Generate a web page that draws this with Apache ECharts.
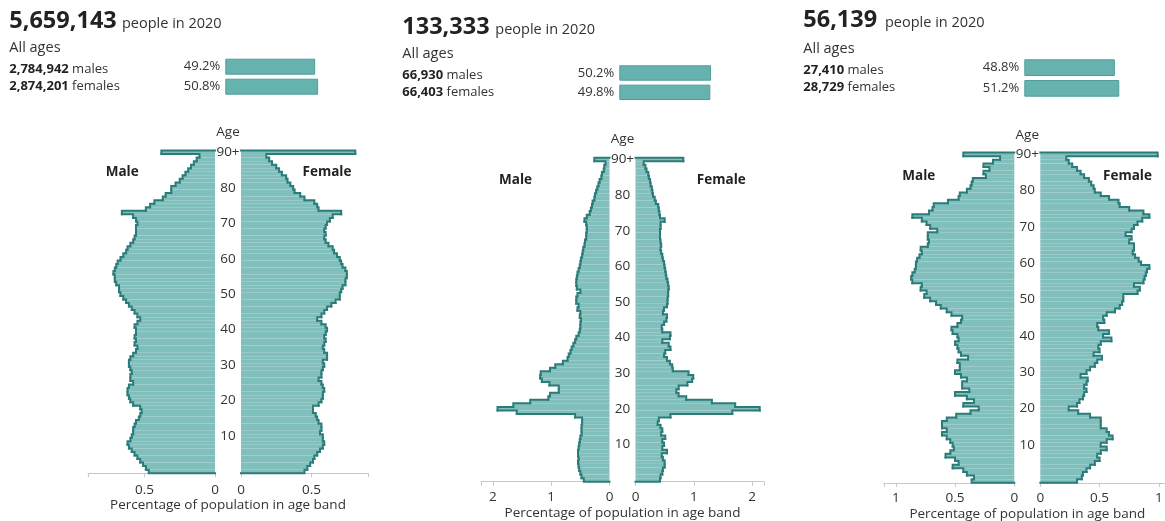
<!DOCTYPE html>
<html><head><meta charset="utf-8">
<script src="https://cdn.jsdelivr.net/npm/echarts@6/dist/echarts.min.js"></script>
<style>html,body{margin:0;padding:0;background:#fff}#c{width:1165px;height:521px}</style>
</head><body><div id="c"></div>
<script>
// ---------- data ----------
const ageLabels = [];
for (let a = 0; a < 90; a++) ageLabels.push(String(a));
ageLabels.push('90+');

const year = 2020;
const totals = [5659143, 133333, 56139];
const maleCounts = [2784942, 66930, 27410];
const femaleCounts = [2874201, 66403, 28729];
const malePct = [49.2, 50.2, 48.8];
const femalePct = [50.8, 49.8, 51.2];

// % of population in each single year of age, index = age 0..90+
const p1Male = [0.47,0.49,0.51,0.53,0.55,0.57,0.59,0.61,0.62,0.60,0.59,0.58,0.58,0.57,0.56,0.54,0.53,0.52,0.53,0.58,
  0.60,0.61,0.62,0.62,0.61,0.58,0.60,0.60,0.59,0.60,0.61,0.61,0.60,0.58,0.56,0.55,0.57,0.56,0.57,0.56,
  0.56,0.57,0.55,0.53,0.55,0.57,0.59,0.61,0.63,0.65,0.67,0.68,0.68,0.70,0.71,0.71,0.72,0.71,0.70,0.69,
  0.67,0.65,0.63,0.62,0.60,0.58,0.57,0.56,0.56,0.56,0.55,0.56,0.58,0.66,0.49,0.46,0.43,0.37,0.35,0.31,
  0.31,0.28,0.25,0.23,0.21,0.19,0.17,0.15,0.13,0.11,0.38];
const p1Female = [0.45,0.47,0.49,0.51,0.52,0.54,0.56,0.58,0.59,0.58,0.58,0.56,0.57,0.57,0.55,0.54,0.53,0.51,0.51,0.55,
  0.57,0.58,0.58,0.59,0.58,0.57,0.55,0.57,0.57,0.58,0.59,0.58,0.61,0.61,0.59,0.58,0.59,0.60,0.59,0.60,
  0.61,0.60,0.57,0.54,0.57,0.59,0.61,0.64,0.67,0.70,0.70,0.71,0.72,0.74,0.74,0.75,0.75,0.74,0.72,0.71,
  0.70,0.68,0.66,0.65,0.62,0.60,0.59,0.60,0.59,0.60,0.61,0.63,0.65,0.71,0.55,0.54,0.52,0.45,0.42,0.38,
  0.37,0.35,0.33,0.32,0.29,0.27,0.25,0.22,0.20,0.18,0.81];
const p2Male = [0.44,0.48,0.50,0.52,0.53,0.54,0.53,0.54,0.54,0.53,0.52,0.51,0.50,0.48,0.48,0.48,0.47,0.47,0.59,1.59,
  1.92,1.65,1.36,1.05,1.02,0.87,0.87,1.03,1.16,1.19,1.18,1.02,0.93,0.80,0.72,0.70,0.67,0.65,0.62,0.59,
  0.57,0.53,0.51,0.50,0.50,0.49,0.51,0.50,0.55,0.53,0.57,0.57,0.55,0.50,0.56,0.57,0.57,0.56,0.55,0.53,
  0.51,0.50,0.49,0.47,0.46,0.45,0.43,0.42,0.40,0.40,0.39,0.39,0.40,0.43,0.39,0.34,0.32,0.30,0.29,0.26,
  0.25,0.23,0.21,0.19,0.17,0.14,0.13,0.10,0.09,0.07,0.26];
const p2Female = [0.42,0.43,0.46,0.47,0.50,0.50,0.47,0.45,0.54,0.46,0.49,0.46,0.51,0.44,0.46,0.43,0.38,0.40,0.60,1.66,
  2.13,1.71,1.31,0.87,0.74,0.70,0.74,0.89,0.97,0.99,0.91,0.64,0.63,0.59,0.54,0.49,0.51,0.60,0.57,0.46,
  0.59,0.60,0.46,0.45,0.49,0.53,0.54,0.47,0.49,0.54,0.55,0.55,0.56,0.56,0.57,0.56,0.55,0.53,0.52,0.51,
  0.50,0.49,0.47,0.46,0.44,0.43,0.44,0.43,0.42,0.42,0.42,0.43,0.43,0.50,0.42,0.41,0.40,0.39,0.35,0.33,
  0.30,0.29,0.28,0.26,0.25,0.23,0.22,0.19,0.17,0.14,0.82];
const p3Male = [0.36,0.34,0.40,0.43,0.52,0.47,0.50,0.58,0.54,0.51,0.52,0.54,0.57,0.61,0.57,0.61,0.61,0.57,0.49,0.37,
  0.30,0.43,0.34,0.40,0.50,0.38,0.44,0.44,0.40,0.45,0.50,0.46,0.46,0.48,0.39,0.45,0.47,0.48,0.50,0.47,
  0.48,0.52,0.53,0.48,0.45,0.44,0.53,0.57,0.62,0.66,0.71,0.76,0.74,0.79,0.78,0.86,0.87,0.86,0.84,0.83,
  0.83,0.82,0.80,0.78,0.79,0.73,0.72,0.73,0.73,0.65,0.71,0.74,0.78,0.86,0.72,0.69,0.68,0.56,0.47,0.46,
  0.40,0.37,0.36,0.35,0.24,0.26,0.21,0.26,0.18,0.12,0.43];
const p3Female = [0.31,0.35,0.36,0.39,0.42,0.46,0.50,0.48,0.51,0.56,0.51,0.56,0.61,0.58,0.56,0.51,0.51,0.51,0.42,0.32,
  0.24,0.31,0.33,0.36,0.37,0.39,0.37,0.39,0.40,0.34,0.39,0.42,0.46,0.48,0.52,0.45,0.50,0.49,0.51,0.60,
  0.53,0.58,0.49,0.48,0.54,0.53,0.56,0.63,0.67,0.69,0.70,0.70,0.82,0.84,0.79,0.87,0.88,0.89,0.90,0.92,
  0.85,0.83,0.80,0.78,0.79,0.79,0.75,0.77,0.72,0.77,0.79,0.82,0.86,0.92,0.87,0.75,0.67,0.66,0.58,0.51,
  0.46,0.45,0.43,0.41,0.37,0.34,0.31,0.27,0.24,0.22,0.99];

const pyramids = [[p1Male, p1Female], [p2Male, p2Female], [p3Male, p3Female]];

// ---------- layout / style ----------
const FONT = "'Open Sans', sans-serif";
const TEXT = '#333333';
const FILL = '#80bfbc';
const LINE = '#2b7c79';
const L = [
  {hx: 9.3, px: 122, bigY: 21, pplY: 23.9, allY: 47.8, mY: 69.2, fY: 86.4,
   hbLeft: 225.3, hbTop: 56.7, hbW: 182.7, hbH: 40, hbBar: 16,
   mLeft: 88, fLeft: 241, w: 127, top: 150.5, h: 322.7, max: 0.9, step: 0.5, lm: 9.5,
   cx: 228, ageY: 132.4, mx: 122.2, fx: 327, sexY: 172.6, nameY: 505.3},
  {hx: 402.3, px: 495.3, bigY: 27, pplY: 29.9, allY: 53.8, mY: 74.8, fY: 92.4,
   hbLeft: 619.3, hbTop: 63.3, hbW: 182.8, hbH: 38.7, hbBar: 15.4,
   mLeft: 481.2, fLeft: 635.5, w: 128.3, top: 157.7, h: 324, max: 2.2, step: 1, lm: 8,
   cx: 622.5, ageY: 139.1, mx: 515.5, fx: 721.3, sexY: 179.9, nameY: 513.3},
  {hx: 803.3, px: 885, bigY: 20.4, pplY: 23.3, allY: 48.8, mY: 69.8, fY: 87.4,
   hbLeft: 1024.3, hbTop: 57.3, hbW: 185.5, hbH: 41.4, hbBar: 16.7,
   mLeft: 883.9, fLeft: 1040.3, w: 130.4, top: 152.5, h: 330.3, max: 1.1, step: 0.5, lm: 8.5,
   cx: 1027.3, ageY: 135.1, mx: 918.8, fx: 1127.5, sexY: 176.3, nameY: 514.3}
];

const fmt = n => n.toLocaleString('en-US');
const grid = [], xAxis = [], yAxis = [], series = [], texts = [];

function txt(x, y, text, o) {
  const st = Object.assign({text: text, fontSize: 13.5, fontFamily: FONT, fill: TEXT,
    textAlign: 'left', textVerticalAlign: 'middle', align: 'left', verticalAlign: 'middle'}, o || {});
  if (o && o.textAlign) st.align = o.textAlign;
  return {type: 'text', x: x, y: y, silent: true, style: st};
}

function outline(idx, vals) {
  const data = vals.map((v, i) => [v, i, i < vals.length - 1 ? vals[i + 1] : 0]);
  return {
    type: 'custom', xAxisIndex: idx, yAxisIndex: idx, clip: false, silent: true, z: 4,
    encode: {x: [0, 2], y: 1},
    data: data,
    renderItem: function (params, api) {
      const v = api.value(0), i = api.value(1), nv = api.value(2);
      const bh = api.size([0, 1])[1];
      const p = api.coord([v, i]);
      const pn = api.coord([nv, i]);
      const p0 = api.coord([0, i]);
      const top = p[1] - bh / 2, bot = p[1] + bh / 2;
      const pts = [];
      if (i === 0) pts.push([p0[0], bot]);
      pts.push([p[0], bot], [p[0], top], [pn[0], top]);
      return {type: 'polyline', shape: {points: pts},
        style: {stroke: LINE, lineWidth: 2, fill: null, lineJoin: 'miter', lineCap: 'square'}};
    }
  };
}

L.forEach((c, k) => {
  const [mv, fv] = pyramids[k];
  const isTick = v => Math.abs(v / c.step - Math.round(v / c.step)) < 1e-6;
  [[c.mLeft, true, mv], [c.fLeft, false, fv]].forEach(([left, male, vals]) => {
    const gi = grid.length;
    grid.push({left: left, top: c.top, width: c.w, height: c.h, containLabel: false, outerBoundsMode: 'none'});
    xAxis.push({gridIndex: gi, type: 'value', min: 0, max: c.max, interval: c.step, inverse: male,
      axisLine: {show: true, lineStyle: {color: '#c8c8c8', width: 1}},
      axisTick: {show: true, length: 4, lineStyle: {color: '#c8c8c8'}},
      splitLine: {show: false},
      axisLabel: {margin: c.lm, fontSize: 13.5, fontFamily: FONT, color: TEXT,
        formatter: v => isTick(v) ? String(v) : ''}});
    yAxis.push({gridIndex: gi, type: 'category', data: ageLabels, show: male, position: 'right',
      axisLine: {show: false, onZero: false}, axisTick: {show: false}, splitLine: {show: false},
      axisLabel: {show: male, margin: (c.fLeft - c.mLeft - c.w) / 2, align: 'center',
        fontSize: 13.5, fontFamily: FONT, color: TEXT,
        interval: (index) => index > 0 && index % 10 === 0}});
    series.push({type: 'bar', xAxisIndex: gi, yAxisIndex: gi, data: vals, barCategoryGap: '0%',
      silent: true, z: 2,
      itemStyle: {color: FILL, borderWidth: 0}});
    series.push(outline(gi, vals));
  });
  // header bar
  const hi = grid.length;
  grid.push({left: c.hbLeft, top: c.hbTop, width: c.hbW, height: c.hbH, containLabel: false, outerBoundsMode: 'none'});
  xAxis.push({gridIndex: hi, type: 'value', min: 0, max: 100, show: false});
  yAxis.push({gridIndex: hi, type: 'category', data: ['males', 'females'], inverse: true, show: false});
  series.push({type: 'bar', xAxisIndex: hi, yAxisIndex: hi, data: [malePct[k], femalePct[k]],
    barWidth: c.hbBar, silent: true,
    itemStyle: {color: '#65b2af', borderColor: '#4e9f9c', borderWidth: 1},
    label: {show: true, position: 'left', distance: 5, fontSize: 13, fontFamily: FONT, color: TEXT,
      formatter: p => p.value.toFixed(1) + '%'}});

  // header texts
  texts.push(txt(c.hx, c.bigY, fmt(totals[k]), {fontSize: 23.5, fontWeight: 'bold', fill: '#222'}));
  texts.push(txt(c.px, c.pplY, 'people in ' + year, {fontSize: 14.5}));
  texts.push(txt(c.hx, c.allY, 'All ages', {fontSize: 14.5}));
  texts.push(txt(c.hx, c.mY, '{b|' + fmt(maleCounts[k]) + '} males',
    {fontSize: 13, rich: {b: {fontWeight: 'bold', fontSize: 13, fontFamily: FONT, fill: '#222'}}}));
  texts.push(txt(c.hx, c.fY, '{b|' + fmt(femaleCounts[k]) + '} females',
    {fontSize: 13, rich: {b: {fontWeight: 'bold', fontSize: 13, fontFamily: FONT, fill: '#222'}}}));
  // pyramid labels
  texts.push(txt(c.cx, c.ageY, 'Age', {textAlign: 'center'}));
  texts.push(txt(c.mx, c.sexY, 'Male', {textAlign: 'center', fontWeight: 'bold', fill: '#222'}));
  texts.push(txt(c.fx, c.sexY, 'Female', {textAlign: 'center', fontWeight: 'bold', fill: '#222'}));
  texts.push(txt(c.cx, c.nameY, 'Percentage of population in age band', {textAlign: 'center'}));
});

const chart = echarts.init(document.getElementById('c'), null, {renderer: 'canvas'});
chart.setOption({
  animation: false,
  backgroundColor: '#ffffff',
  textStyle: {fontFamily: FONT},
  grid: grid, xAxis: xAxis, yAxis: yAxis, series: series,
  graphic: {elements: texts}
});
</script></body></html>
